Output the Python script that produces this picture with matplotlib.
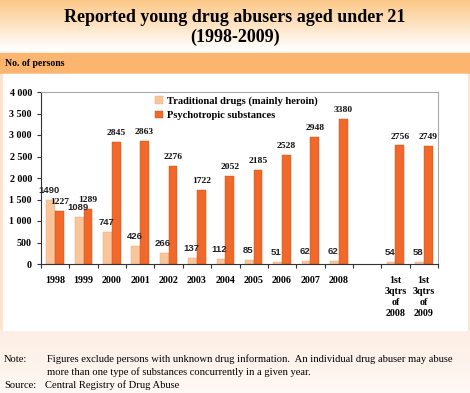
import numpy as np
import matplotlib
matplotlib.use("Agg")
import matplotlib.pyplot as plt
from matplotlib.patches import Rectangle

# ---------------- data ----------------
categories = ["1998", "1999", "2000", "2001", "2002", "2003", "2004", "2005",
              "2006", "2007", "2008", "", "1st\n3qtrs\nof\n2008", "1st\n3qtrs\nof\n2009"]
traditional = [1490, 1089, 747, 426, 266, 137, 112, 85, 51, 62, 62, np.nan, 54, 58]
psychotropic = [1227, 1289, 2845, 2863, 2276, 1722, 2052, 2185, 2528, 2948, 3380, np.nan, 2756, 2749]
series_names = ["Traditional drugs (mainly heroin)", "Psychotropic substances"]
yticks = [0, 500, 1000, 1500, 2000, 2500, 3000, 3500, 4000]
ytick_labels = ["0", "500", "1 000", "1 500", "2 000", "2 500", "3 000", "3 500", "4 000"]

title_line1 = "Reported young drug abusers aged under 21"
title_line2 = "(1998-2009)"
ylabel = "No. of persons"
note_label = "Note:"
note_line1 = "Figures exclude persons with unknown drug information.  An individual drug abuser may abuse"
note_line2 = "more than one type of substances concurrently in a given year."
source_label = "Source:"
source_text = "Central Registry of Drug Abuse"

C_TRAD = "#F9C59B"
C_PSY = "#F0692B"
SERIF = "Liberation Serif"
SANS = "Liberation Sans"

W, H = 470, 393
fig = plt.figure(figsize=(W / 100, H / 100), dpi=100)

# ---------------- background decoration ----------------
bg = fig.add_axes([0, 0, 1, 1], zorder=-10)
bg.set_xlim(0, W)
bg.set_ylim(H, 0)
bg.axis("off")
top_c = np.array([252, 200, 135]) / 255
grad = np.linspace(0, 1, 100)[:, None]
img = top_c[None, None, :] * (1 - grad[..., None]) + np.ones(3)[None, None, :] * grad[..., None]
img = np.repeat(img, 2, axis=1)
bg.imshow(img, extent=(0, W, 50, 0), aspect="auto", zorder=0)
bg.add_patch(Rectangle((0, 50), W, 4, color="#FFFBF6", zorder=1))
bg.add_patch(Rectangle((0, 53), W, 21, color="#FBB56F", zorder=1))
bg.add_patch(Rectangle((0, 74), W, 256, color="#FDE3CC", zorder=1))
bg.add_patch(Rectangle((3, 74), W - 6, 256, color="white", zorder=2))
bot = np.array([253, 238, 228]) / 255
img2 = bot[None, None, :] * (1 - grad[..., None] * 0.6) + np.ones(3)[None, None, :] * grad[..., None] * 0.6
img2 = np.repeat(img2, 2, axis=1)
bg.imshow(img2, extent=(0, W, H, 330), aspect="auto", zorder=1)

# ---------------- texts ----------------
fig.text(0.5, 1 - 17 / H, title_line1, ha="center", va="center", fontsize=13,
         fontweight="bold", family=SERIF)
fig.text(0.5, 1 - 37 / H, title_line2, ha="center", va="center", fontsize=13,
         fontweight="bold", family=SERIF)
fig.text(5 / W, 1 - 63 / H, ylabel, ha="left", va="center", fontsize=7,
         fontweight="bold", family=SERIF)
fig.text(4 / W, 1 - 359 / H, note_label, ha="left", va="center", fontsize=7.6, family=SERIF)
fig.text(47 / W, 1 - 359 / H, note_line1, ha="left", va="center", fontsize=7.6, family=SERIF)
fig.text(47 / W, 1 - 372 / H, note_line2, ha="left", va="center", fontsize=7.6, family=SERIF)
fig.text(4 / W, 1 - 385 / H, source_label, ha="left", va="center", fontsize=7.6, family=SERIF)
fig.text(45 / W, 1 - 385 / H, source_text, ha="left", va="center", fontsize=7.6, family=SERIF)

# ---------------- chart ----------------
ax = fig.add_axes([41 / W, 1 - 264 / H, (438 - 41) / W, (264 - 92) / H])
x = np.arange(len(categories))
bw = 0.31
ax.bar(x - bw / 2, traditional, bw, color=C_TRAD, edgecolor="#E8A878", linewidth=0.3,
       label=series_names[0], zorder=2)
ax.bar(x + bw / 2, psychotropic, bw, color=C_PSY, edgecolor="#C85010", linewidth=0.3,
       label=series_names[1], zorder=2)

for xi, v in zip(x, traditional):
    if np.isnan(v):
        continue
    ax.annotate(f"{v:.0f}", (xi - bw / 2, v), xytext=(-1, 3.5), textcoords="offset points",
                ha="center", va="bottom", fontsize=6.8, fontweight="bold", family=SANS,
                color="#222222", zorder=5)
for xi, v in zip(x, psychotropic):
    if np.isnan(v):
        continue
    ax.annotate(f"{v:.0f}", (xi + bw / 2, v), xytext=(0, 3.5), textcoords="offset points",
                ha="center", va="bottom", fontsize=6.8, fontweight="bold", family=SERIF,
                color="#111111", zorder=5)

ax.set_xlim(-0.5, len(categories) - 0.5)
ax.set_ylim(0, 4000)
ax.set_yticks(yticks)
ax.set_yticklabels(ytick_labels, family=SERIF, fontweight="bold", fontsize=7.2)
ax.set_xticks(np.arange(len(categories) + 1) - 0.5)
ax.set_xticklabels([])
ax.set_xticks(x, minor=True)
ax.set_xticklabels(categories, minor=True, family=SERIF, fontweight="bold", fontsize=7.2,
                   linespacing=1.3, va="top")
ax.tick_params(axis="x", which="major", direction="out", length=3, width=0.8, color="#333333")
ax.tick_params(axis="x", which="minor", length=0, pad=8.5)
ax.tick_params(axis="y", direction="out", length=3, width=0.8, color="#333333", pad=3.5)
for s in ("left", "bottom"):
    ax.spines[s].set_color("#333333")
    ax.spines[s].set_linewidth(0.8)
for s in ("top", "right"):
    ax.spines[s].set_color("#A8A8A8")
    ax.spines[s].set_linewidth(0.8)
ax.set_facecolor("none")

ax.legend(loc="upper left", bbox_to_anchor=(155 / W, 1 - 96 / H),
          bbox_transform=fig.transFigure, frameon=False,
          prop={"family": SERIF, "weight": "bold", "size": 7.6},
          handlelength=0.75, handleheight=0.75, handletextpad=0.4,
          labelspacing=0.45, borderpad=0, borderaxespad=0)

fig.savefig("out.png", dpi=100)
